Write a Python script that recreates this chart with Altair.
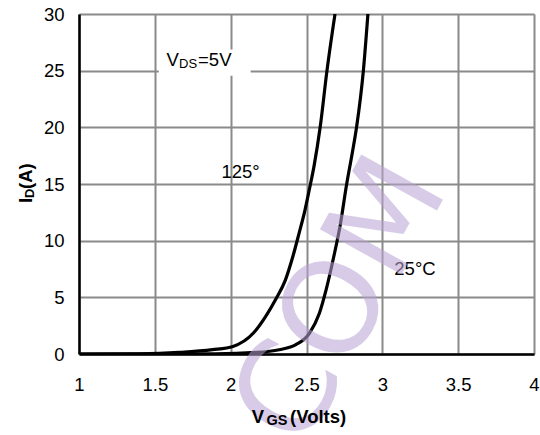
import altair as alt
import pandas as pd

# Data
vgs_125 = [1.0, 1.4, 1.66, 1.88, 2.015, 2.15, 2.23, 2.3, 2.36, 2.41, 2.45, 2.49, 2.52, 2.55, 2.59, 2.635, 2.688]
id_125 = [0, 0.02, 0.14, 0.38, 0.67, 1.85, 3.3, 4.9, 6.5, 8.6, 10.6, 12.7, 14.6, 16.6, 20.0, 25.0, 30.0]
vgs_25 = [1.0, 1.9, 2.17, 2.32, 2.43, 2.52, 2.585, 2.63, 2.68, 2.72, 2.765, 2.8, 2.83, 2.875, 2.905]
id_25 = [0, 0.02, 0.14, 0.38, 0.82, 1.85, 3.6, 5.7, 8.6, 11.2, 15.0, 17.6, 20.0, 25.0, 30.0]

x_ticks = [1, 1.5, 2, 2.5, 3, 3.5, 4]
y_ticks = [0, 5, 10, 15, 20, 25, 30]

FONT = "Liberation Sans"

df = pd.concat([
    pd.DataFrame({"vgs": vgs_125, "id": id_125, "curve": "125"}),
    pd.DataFrame({"vgs": vgs_25, "id": id_25, "curve": "25"}),
])

xs = alt.Scale(domain=[1, 4], nice=False, zero=False)
ys = alt.Scale(domain=[0, 30], nice=False)

lines = alt.Chart(df).mark_line(
    color="black", strokeWidth=3.2, interpolate="monotone", clip=True
).encode(
    x=alt.X("vgs:Q", scale=xs,
            axis=alt.Axis(values=x_ticks, format="~g", title=None, grid=True,
                          gridColor="#8a8a8a", gridWidth=2,
                          domainColor="black", domainWidth=2.5,
                          ticks=False, tickSize=0, labelPadding=21,
                          labelFontSize=18.5, labelFont=FONT, labelColor="black",
                          labelFlush=False)),
    y=alt.Y("id:Q", scale=ys,
            axis=alt.Axis(values=y_ticks, format="~g", title=None, grid=True,
                          gridColor="#8a8a8a", gridWidth=2,
                          domainColor="black", domainWidth=2.5,
                          ticks=False, tickSize=0, labelPadding=15,
                          labelFontSize=18.5, labelFont=FONT, labelColor="black",
                          labelFlush=False)),
    detail="curve:N",
)

# white box behind V_DS label
box_df = pd.DataFrame({"x1": [1.526], "x2": [2.132], "y1": [24.56], "y2": [26.86]})
box = alt.Chart(box_df).mark_rect(color="white").encode(
    x=alt.X("x1:Q", scale=xs), x2="x2:Q",
    y=alt.Y("y1:Q", scale=ys), y2="y2:Q",
)

def txt(x, y, s, size=18.5, weight="normal", align="left", angle=0, baseline="alphabetic"):
    d = pd.DataFrame({"x": [x], "y": [y], "t": [s]})
    kw = dict(font=FONT, fontSize=size, fontWeight=weight, align=align,
              baseline=baseline, color="black")
    if angle:
        kw["angle"] = angle
    return alt.Chart(d).mark_text(**kw).encode(
        x=alt.X("x:Q", scale=xs), y=alt.Y("y:Q", scale=ys), text="t:N")

def ptxt(px, py, s, size=18.5, weight="normal", align="left", angle=0):
    d = pd.DataFrame({"t": [s]})
    kw = dict(font=FONT, fontSize=size, fontWeight=weight, align=align,
              baseline="alphabetic", color="black")
    if angle:
        kw["angle"] = angle
    return alt.Chart(d).mark_text(**kw).encode(
        x=alt.value(px), y=alt.value(py), text="t:N")

labels = [
    txt(1.577, 25.4, "V", 18.5),
    txt(1.66, 25.2, "DS", 13),
    txt(1.785, 25.4, "=5V", 18.5),
    txt(1.939, 15.53, "125°", 18.5),
    txt(3.079, 7.0, "25°C", 18.5),
]

# axis titles built from pieces (subscripts)
titles = [
    ptxt(172.7, 408.7, "V", 18.5, "bold"),
    ptxt(187.5, 411.0, "GS", 14.5, "bold"),
    ptxt(211.0, 408.7, "(Volts)", 18.5, "bold"),
    ptxt(-47.5, 189.0, "I", 18.5, "bold", angle=270),
    ptxt(-45.5, 184.0, "D", 13, "bold", angle=270),
    ptxt(-47.5, 175.0, "(A)", 18.5, "bold", angle=270),
]

# watermark
wm_df = pd.DataFrame({"x": [2.74], "y": [4.6], "t": ["COM"]})
wm = alt.Chart(wm_df).mark_text(
    font="DejaVu Sans", fontSize=128, angle=299, align="center", baseline="middle",
    color="#b9a2d4", opacity=0.55, fontWeight="normal"
).encode(x=alt.X("x:Q", scale=xs), y=alt.Y("y:Q", scale=ys), text="t:N")

chart = alt.layer(box, lines, *labels, wm, *titles).properties(
    width=455, height=340,
    padding={"left": 79, "top": 14, "right": 6, "bottom": 81},
    autosize=alt.AutoSizeParams(type="none"),
).configure_view(stroke="#8a8a8a", strokeWidth=2).configure(background="white")

chart.save("out.html", embed_options={"renderer": "svg", "actions": False})
